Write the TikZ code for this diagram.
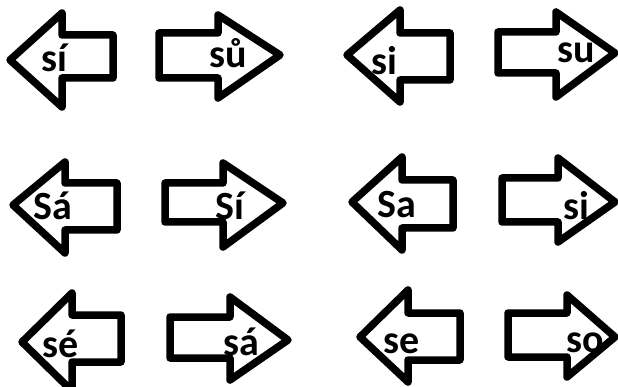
\documentclass[tikz,border=0pt]{standalone}
\usepackage{fontspec}
\setmainfont{Carlito}
\tikzset{
  arr/.style={draw=black, line width=7.5pt, line join=round, fill=white},
  lbl/.style={font=\bfseries\fontsize{40}{40}\selectfont, text=black, inner sep=0pt, anchor=base}
}
% left arrow: tipx,tipy,hx,htop,hbot,stop,sbot,ex
\newcommand{\larrow}[8]{\draw[arr] (#1,#2) -- (#3,#4) -- (#3,#6) -- (#8,#6) -- (#8,#7) -- (#3,#7) -- (#3,#5) -- cycle;}
% right arrow: ex,stop,sbot,hx,htop,hbot,tipx,tipy
\newcommand{\rarrow}[8]{\draw[arr] (#1,#2) -- (#4,#2) -- (#4,#5) -- (#7,#8) -- (#4,#6) -- (#4,#3) -- (#1,#3) -- cycle;}
\begin{document}
\begin{tikzpicture}[x=1pt,y=-1pt]
\useasboundingbox (0,0) rectangle (618,387);
\fill[white] (0,0) rectangle (618,387);
% row 1
\larrow{10}{60}{62}{13}{107}{35}{78}{113}
\node[lbl] (t1) at (54,72) {sí};
\rarrow{159}{33}{78}{218}{15}{98}{280}{55}
\node[lbl] (t2) at (228,68) {sů};
\larrow{347}{55}{400}{10}{102}{33}{80}{450}
\node[lbl] (t3) at (384,75) {si};
\rarrow{498}{32}{73}{556}{12}{97}{615}{53}
\node[lbl] (t4) at (576,63) {su};
% row 2
\larrow{13}{205}{65}{162}{253}{183}{230}{117}
\node[lbl] (t5) at (53,220) {Sá};
\rarrow{165}{183}{222}{223}{163}{247}{283}{203}
\node[lbl] (t6) at (230,220) {Sí};
\larrow{352}{202}{402}{157}{250}{180}{228}{453}
\node[lbl] (t7) at (397,218) {Sa};
\rarrow{502}{178}{222}{558}{158}{242}{615}{202}
\node[lbl] (t8) at (576,220) {si};
% row 3
\larrow{22}{342}{72}{293}{391}{315}{362}{121}
\node[lbl] (t9) at (61,357) {sé};
\rarrow{170}{317}{358}{230}{297}{380}{288}{340}
\node[lbl] (t10) at (241,355) {sá};
\larrow{360}{337}{408}{290}{382}{313}{360}{460}
\node[lbl] (t11) at (402,353) {se};
\rarrow{508}{313}{357}{567}{295}{377}{615}{337}
\node[lbl] (t12) at (585,352) {so};
\end{tikzpicture}
\end{document}
